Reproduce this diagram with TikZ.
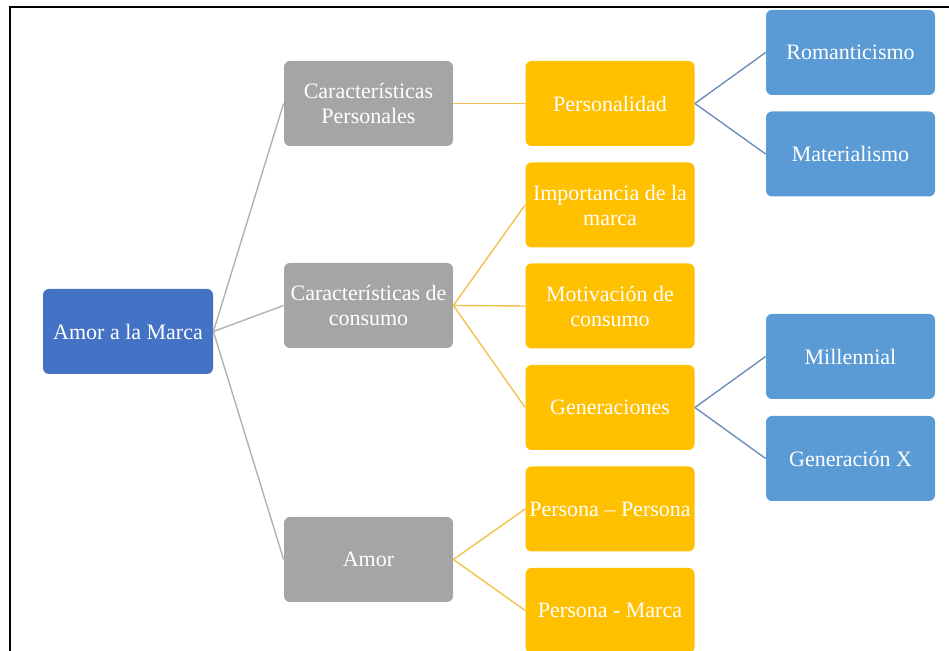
\documentclass[tikz,border=0pt]{standalone}
\usepackage{fontspec}
\setmainfont{Liberation Serif}
\usetikzlibrary{positioning}
\definecolor{rootblue}{HTML}{4472C4}
\definecolor{midgray}{HTML}{A5A5A5}
\definecolor{gold}{HTML}{FFC000}
\definecolor{leafblue}{HTML}{5B9BD5}
\definecolor{goldedge}{HTML}{F2C24A}
\definecolor{blueedge}{HTML}{6A8FBA}

\begin{document}
\begin{tikzpicture}[x=0.5pt,y=-0.5pt,
  box/.style={rounded corners=3pt,minimum width=84.5pt,minimum height=42.5pt,
    inner sep=1pt,align=center,text=white,font=\fontsize{11}{12.5}\selectfont},
  rootbox/.style={box,fill=rootblue,minimum width=85pt},
  graybox/.style={box,fill=midgray},
  goldbox/.style={box,fill=gold},
  leafbox/.style={box,fill=leafblue},
  grayline/.style={draw=midgray!85,line width=0.7pt},
  goldline/.style={draw=goldedge,line width=0.7pt},
  blueline/.style={draw=blueedge,line width=0.7pt}]
\clip (0,0) rectangle (949,651);
\draw[line width=1pt] (10,655) |- (953,7);

\node[rootbox] (amor) at (128,331.5) {Amor a la Marca};

\node[graybox] (personales) at (368.5,103.5) {Características\\Personales};
\node[graybox] (consumo) at (368.5,305.5) {Características de\\consumo};
\node[graybox] (amorg) at (368.5,559.5) {Amor};

\node[goldbox] (personalidad) at (610,103.5) {Personalidad};
\node[goldbox] (importancia) at (610,205) {Importancia de la\\marca};
\node[goldbox] (motivacion) at (610,306) {Motivación de\\consumo};
\node[goldbox] (generaciones) at (610,407.5) {Generaciones};
\node[goldbox] (perper) at (610,509) {Persona – Persona};
\node[goldbox] (permarca) at (610,610.5) {Persona - Marca};

\node[leafbox] (romant) at (850.5,52.5) {Romanticismo};
\node[leafbox] (material) at (850.5,154) {Materialismo};
\node[leafbox] (millennial) at (850.5,356.5) {Millennial};
\node[leafbox] (genx) at (850.5,458.5) {Generación X};

\draw[grayline] (amor.east) -- (personales.west);
\draw[grayline] (amor.east) -- (consumo.west);
\draw[grayline] (amor.east) -- (amorg.west);

\draw[goldline] (personales.east) -- (personalidad.west);
\draw[goldline] (consumo.east) -- (importancia.west);
\draw[goldline] (consumo.east) -- (motivacion.west);
\draw[goldline] (consumo.east) -- (generaciones.west);
\draw[goldline] (amorg.east) -- (perper.west);
\draw[goldline] (amorg.east) -- (permarca.west);

\draw[blueline] (personalidad.east) -- (romant.west);
\draw[blueline] (personalidad.east) -- (material.west);
\draw[blueline] (generaciones.east) -- (millennial.west);
\draw[blueline] (generaciones.east) -- (genx.west);
\end{tikzpicture}
\end{document}
